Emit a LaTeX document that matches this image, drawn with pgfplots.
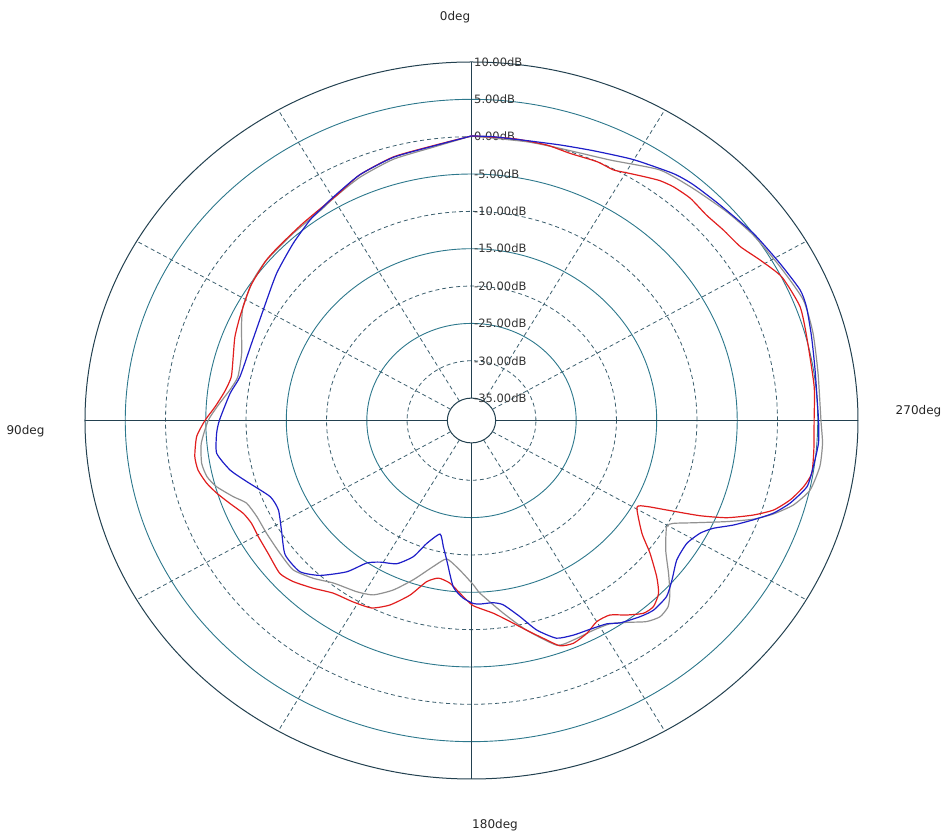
\documentclass[border=0pt]{standalone}
\usepackage{pgfplots}
\pgfplotsset{compat=1.18}
\usepackage{pgfplotstable}
\usepackage{fontspec}
\setmainfont{DejaVu Sans}

\definecolor{ringc}{RGB}{45,120,140}
\definecolor{darkc}{RGB}{35,65,80}
\definecolor{dashc}{RGB}{60,95,110}
\definecolor{redc}{RGB}{225,30,30}
\definecolor{bluec}{RGB}{30,30,200}
\definecolor{grayc}{RGB}{145,145,145}

% angle in deg (0 at top, counter clockwise), level in dB
\pgfplotstableread{
deg db
0 0.1
7.4 -0.95
15.4 -1.45
22.9 -2.3
29.8 -3.5
33.7 -4.1
36.8 -4.5
43.0 -5.55
50.9 -6.8
60.2 -8.2
69.3 -8.8
78.5 -8.65
83.1 -7.8
89.9 -6.7
93.1 -6.3
97.9 -6.05
102.5 -7.3
106.3 -8.9
112.2 -11.0
116.5 -11.2
121.9 -10.2
127.8 -8.7
133.5 -8.6
137.8 -10.0
142.6 -12.5
145.7 -14.9
149.1 -15.9
154.2 -16.7
158.4 -18.4
161.3 -20.6
165.6 -22.3
168.3 -20.75
170.6 -19.1
174.2 -15.6
177.5 -14.2
180.5 -13.5
182.5 -13.4
186.3 -13.45
189.1 -13.0
192.9 -11.06
196.1 -8.8
199.9 -7.0
203.8 -6.6
207.8 -6.4
211.7 -6.0
214.3 -5.2
218.6 -4.4
221.7 -4.0
225.8 -4.2
229.4 -5.2
233.8 -6.4
238.4 -6.6
242.0 -5.85
244.3 -4.7
246.7 -2.6
249.2 -0.55
251.7 1.5
254.4 3.1
258.0 4.6
261.7 4.9
266.0 5.2
270.0 5.1
279.0 5.2
284.9 5.7
290.1 6.3
293.2 6.4
298.8 5.7
305.6 5.05
313.1 4.25
318.9 3.9
322.8 3.5
330.1 2.3
337.3 1.16
343.4 0.5
349.6 0.1
355.9 0.09
360 0.1
}\bluedata

\pgfplotstableread{
deg db
0 0.1
7.4 -0.9
15.4 -1.4
22.9 -2.3
29.0 -3.5
33.7 -4.0
38.4 -4.3
42.2 -4.5
46.4 -4.6
50.3 -4.7
56.9 -5.2
64.2 -6.06
69.1 -6.55
73.1 -7.1
78.9 -7.6
82.8 -7.1
86.7 -6.1
90.0 -4.9
93.6 -3.8
98.0 -3.3
101.1 -3.4
104.3 -4.05
107.1 -4.9
110.3 -6.0
113.7 -7.05
116.7 -7.4
120.4 -7.3
125.2 -7.1
130.7 -6.6
134.3 -7.1
138.8 -8.15
143.4 -9.2
148.8 -9.6
153.7 -10.0
157.7 -11.3
161.9 -13.4
165.5 -15.7
169.0 -16.5
173.0 -16.05
177.5 -14.4
180.5 -13.2
186.0 -12.05
190.1 -10.65
193.7 -9.1
197.0 -7.5
200.0 -5.9
203.0 -5.6
206.7 -6.1
210.0 -6.9
213.4 -6.8
216.5 -5.6
219.6 -4.5
222.2 -4.36
225.1 -5.2
227.7 -6.9
231.3 -9.6
234.5 -12.0
240.5 -14.4
242.1 -13.4
243.7 -10.95
245.8 -6.9
247.7 -3.7
250.1 -0.8
252.3 1.4
255.0 3.0
257.9 4.2
260.5 4.85
264.7 4.7
270.0 4.55
276.1 4.8
284.9 5.1
290.5 5.56
296.5 5.07
300.9 3.8
304.9 2.7
309.2 2.36
313.3 2.1
317.6 2.3
321.3 2.1
323.9 1.74
326.3 1.16
329.8 0.37
332.3 -0.1
335.8 0.0
341.1 -0.2
345.8 0.05
352.2 0.1
360 0.1
}\reddata

\pgfplotstableread{
deg db
0 0.1
7.4 -1.1
15.5 -1.7
23.0 -2.6
29.5 -3.6
33.8 -4.2
41.5 -4.56
49.8 -4.7
55.2 -5.0
61.8 -5.8
66.3 -6.8
72.5 -8.07
78.6 -8.4
82.3 -7.7
86.2 -6.5
90.0 -5.3
95.2 -4.3
99.7 -4.0
102.9 -4.3
105.6 -5.1
109.0 -6.7
111.6 -7.95
115.8 -8.4
120.7 -8.4
126.8 -8.3
132.1 -8.16
137.1 -9.15
141.8 -10.3
148.1 -11.0
152.4 -11.65
156.8 -13.3
161.3 -15.5
166.4 -17.9
170.6 -19.2
175.9 -17.9
180.6 -16.0
182.6 -14.85
188.7 -11.9
193.7 -9.1
199.4 -6.1
203.3 -6.0
208.3 -6.1
212.3 -5.8
215.5 -4.8
218.9 -3.4
221.7 -2.8
224.4 -3.1
226.8 -4.2
230.1 -6.1
234.3 -8.3
239.6 -9.9
241.2 -9.4
243.6 -7.2
246.9 -3.5
249.3 -0.6
251.5 1.5
254.2 3.55
257.5 5.07
261.9 5.7
266.0 5.7
270.0 5.4
278.3 5.5
285.4 6.0
291.4 6.26
298.3 5.5
305.4 4.9
311.4 4.26
318.5 3.5
325.1 2.9
333.7 0.9
343.2 0.06
349.6 -0.05
360 0.1
}\graydata

\begin{document}
\begin{tikzpicture}[x=1pt,y=1pt]
\path[use as bounding box] (-471.5,-413.5) rectangle (474.5,420.5);

% rings, every 5 dB from -35 to 10 (radius = dB + 38)
\foreach \r in {8,18,28,38}
  \draw[dashc, line width=0.8pt, dash pattern=on 4pt off 3pt] (0,0) ellipse [x radius={\r*8.05208pt}, y radius={\r*7.46875pt}];
\foreach \r in {13,23,33,43}
  \draw[ringc, line width=0.9pt] (0,0) ellipse [x radius={\r*8.05208pt}, y radius={\r*7.46875pt}];
\draw[darkc, line width=1pt] (0,0) ellipse [x radius={48*8.05208pt}, y radius={48*7.46875pt}];
\draw[darkc, line width=1pt] (0,0) ellipse [x radius={3*8.05208pt}, y radius={3*7.46875pt}];

% spokes
\foreach \a in {30,60,120,150,210,240,300,330}
  \draw[dashc, line width=0.8pt, dash pattern=on 4pt off 3pt]
    ({3*8.05208*cos(\a)},{3*7.46875*sin(\a)}) -- ({48*8.05208*cos(\a)},{48*7.46875*sin(\a)});
\foreach \a in {0,90,180,270}
  \draw[darkc, line width=1pt]
    ({3*8.05208*cos(\a)},{3*7.46875*sin(\a)}) -- ({48*8.05208*cos(\a)},{48*7.46875*sin(\a)});

% dB labels
\foreach \v in {10,5,0,-5,-10,-15,-20,-25,-30,-35}
  \node[anchor=west, inner sep=0pt, text=black!80, font=\fontsize{11.5}{12}\selectfont]
    at (2.5,{(\v+38)*7.46875}) {\v.00dB};

% angle labels
\node[font=\fontsize{12}{13}\selectfont, text=black!85] at (-16.5,403.5) {0deg};
\node[font=\fontsize{12}{13}\selectfont, text=black!85] at (-446,-11) {90deg};
\node[font=\fontsize{12}{13}\selectfont, text=black!85] at (23.5,-404.5) {180deg};
\node[font=\fontsize{12}{13}\selectfont, text=black!85] at (447,9) {270deg};

\begin{axis}[
    at={(0,0)}, anchor=origin,
    scale only axis,
    width=773pt, height=717pt,
    xmin=-48, xmax=48, ymin=-48, ymax=48,
    hide axis, clip=false
]
\addplot[grayc, line width=1.2pt, smooth, tension=0.35, data cs=polar] table[x expr=\thisrow{deg}+90, y expr=\thisrow{db}+38] {\graydata};
\addplot[redc, line width=1.2pt, smooth, tension=0.35, data cs=polar] table[x expr=\thisrow{deg}+90, y expr=\thisrow{db}+38] {\reddata};
\addplot[bluec, line width=1.2pt, smooth, tension=0.35, data cs=polar] table[x expr=\thisrow{deg}+90, y expr=\thisrow{db}+38] {\bluedata};
\end{axis}
\end{tikzpicture}
\end{document}
